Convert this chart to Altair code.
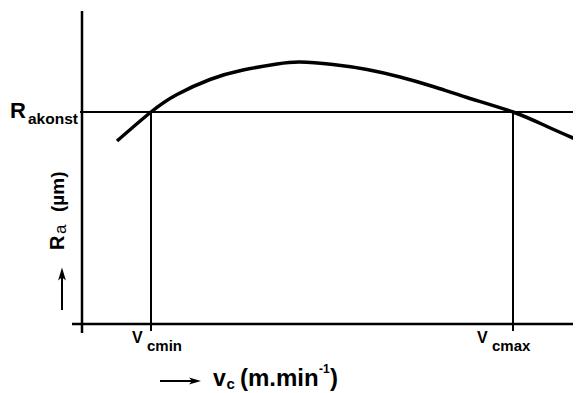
import altair as alt
import pandas as pd

# ---- data (abstract units) ----
vc_curve = [7.0, 13.8, 19.0, 25.6, 32.2, 39.0, 43.6, 50.2, 57.0, 63.6, 70.2, 77.0, 86.2, 93.0, 99.6]
ra_curve = [36.6, 42.4, 45.9, 48.9, 50.8, 52.0, 52.4, 51.9, 50.9, 49.4, 47.5, 45.3, 42.4, 39.5, 36.6]
ra_konst = 42.4
vc_min = 13.8
vc_max = 86.2
x_axis_span = [-2.0, 99.8]
y_axis_span = [-1.8, 62.6]

XS = alt.Scale(domain=[-14.8, 98.2], nice=False, zero=False)
YS = alt.Scale(domain=[-13.8, 63.2], nice=False, zero=False)
FONT = "Liberation Sans"


def X(f):
    return alt.X(f, type="quantitative", scale=XS, axis=None)


def Y(f):
    return alt.Y(f, type="quantitative", scale=YS, axis=None)


def seg(x1, y1, x2, y2, w):
    df = pd.DataFrame({"x": [x1], "y": [y1], "x2": [x2], "y2": [y2]})
    return alt.Chart(df).mark_rule(color="black", strokeWidth=w).encode(
        x=X("x"), y=Y("y"), x2=alt.X2("x2"), y2=alt.Y2("y2")
    )


def txt(s, x, y, size, dx=0, angle=0, weight="bold"):
    df = pd.DataFrame({"x": [x], "y": [y], "t": [s]})
    kw = dict(align="left", baseline="alphabetic", fontSize=size, fontWeight=weight,
              font=FONT, color="black", dx=dx)
    if angle:
        kw["angle"] = angle
    return alt.Chart(df).mark_text(**kw).encode(x=X("x"), y=Y("y"), text=alt.Text("t:N"))


def head(x, y, path, size):
    df = pd.DataFrame({"x": [x], "y": [y]})
    return alt.Chart(df).mark_point(shape=path, size=size, filled=True, color="black",
                                    opacity=1, strokeWidth=0).encode(x=X("x"), y=Y("y"))


curve_df = pd.DataFrame({"vc": vc_curve, "ra": ra_curve})
curve = alt.Chart(curve_df).mark_line(color="black", strokeWidth=3.5, interpolate="natural").encode(
    x=X("vc"), y=Y("ra")
)

layers = [
    seg(0, y_axis_span[0], 0, y_axis_span[1], 2.5),
    seg(x_axis_span[0], 0, x_axis_span[1], 0, 2.5),
    seg(-0.4, ra_konst, x_axis_span[1], ra_konst, 2),
    seg(vc_min, -1.4, vc_min, ra_konst, 2),
    seg(vc_max, -1.4, vc_max, ra_konst, 2),
    curve,
    # Ra_konst label
    txt("R", -14.4, 41.2, 22),
    txt("akonst", -10.8, 40.0, 15.5),
    # tick labels
    txt("V", vc_min, -3.8, 16, dx=-19),
    txt("cmin", vc_min, -5.4, 15, dx=-4),
    txt("V", vc_max, -3.8, 16, dx=-36),
    txt("cmax", vc_max, -5.4, 15, dx=-21),
    # y title (rotated)
    txt("R", -3.6, 14.8, 20, angle=270),
    txt("a", -3.2, 18.0, 17, angle=270, weight="normal"),
    txt("(µm)", -3.6, 22.4, 19, angle=270),
    seg(-4, 2.8, -4, 10.0, 2),
    head(-4, 10.0, "M0,-1L0.6,1L0,0.5L-0.6,1Z", 169),
    # x title
    seg(15.6, -11.4, 22.8, -11.4, 2),
    head(22.6, -11.4, "M1,0L-1,-0.6L-0.5,0L-1,0.6Z", 144),
    txt("v", 26.2, -12.4, 23),
    txt("c", 28.9, -13.0, 15),
    txt("(m.min", 31.6, -12.4, 24),
    txt("-1", 47.4, -9.8, 12),
    txt(")", 49.6, -12.4, 24),
]

chart = alt.layer(*layers).properties(
    width=565, height=385,
    autosize=alt.AutoSizeParams(type="none"),
    padding=0,
).configure_view(stroke=None)

chart.save("out.html", embed_options={"renderer": "svg", "actions": False})
